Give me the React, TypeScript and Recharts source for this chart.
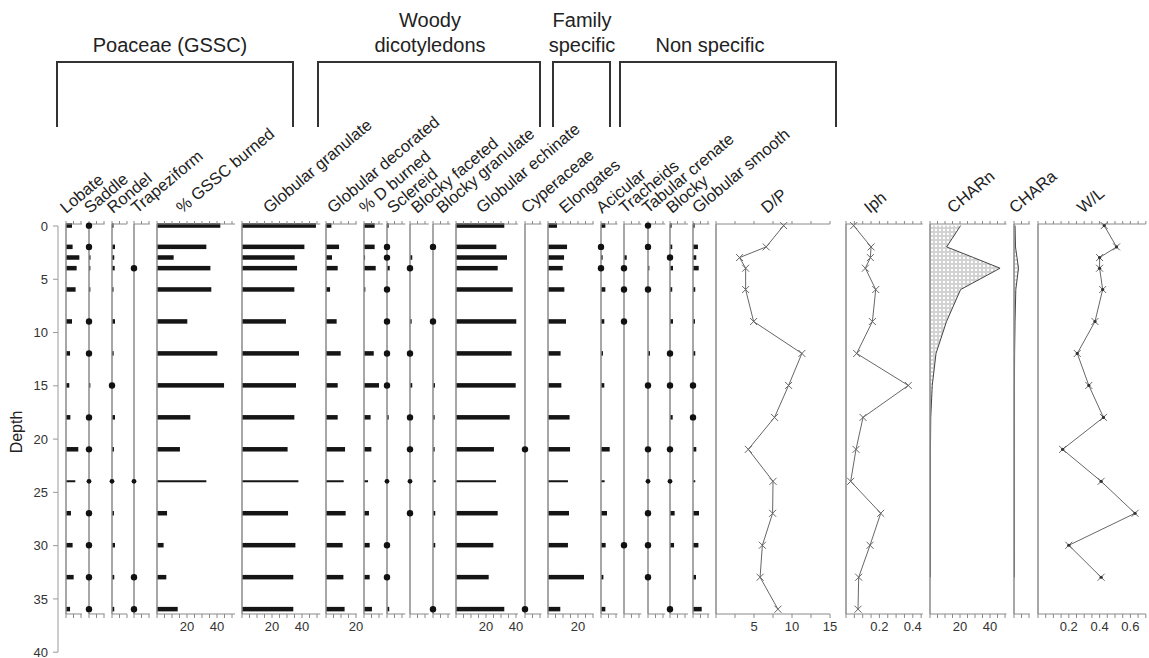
import React from "react";
import { ComposedChart, Bar, Line, Area, XAxis, YAxis, ReferenceLine } from "recharts";

const DEPTHS = [0, 2, 3, 4, 6, 9, 12, 15, 18, 21, 24, 27, 30, 33, 36];

// bar values in %, one per depth, null = not found
const lobate = [4, 4.4, 8.9, 7.1, 6.4, 4, 2.7, 2.2, 2.9, 8.2, 6.2, 3.3, 4.4, 5.1, 2.7];
const saddle = [null, null, 1, 0.9, 0.9, null, null, 0.9, null, null, null, null, null, null, null];
const rondel = [1, 2, 1.5, 1.8, 1, 2, 1.1, null, 2, 1.3, null, 1.3, 2, 1.5, 1.5];
const trapeziform = DEPTHS.map(() => null);
const gsscBurned = [42.2, 32.9, 11.1, 35.6, 36.2, 20.2, 40.2, 44.7, 22.2, 15.3, 32.9, 6.7, 4.4, 6.2, 13.8];
const globGranulate = [49.3, 41.6, 35.1, 36.7, 34.9, 29.3, 38, 36, 34.9, 30.4, 37.6, 30.7, 35.6, 34.2, 34.2];
const globDecorated = [3.6, 8.7, 4, 7.8, 2.7, 7.1, 9.8, 7.8, 7.8, 12.7, 11.8, 13.1, 11.1, 11.6, 12.4];
const dBurned = [7.1, 7.1, 0.7, 7.8, 0.9, null, 6.5, 10, 4.4, 4.9, 2.7, 3.3, 3.8, 3.8, 5.3];
const sclereid = [1.1, null, null, 1.8, null, null, null, null, 1.1, null, null, null, null, null, 1.5];
const blockyFaceted = [null, null, 1.5, null, null, 1.1, null, 1.5, null, null, null, null, null, null, null];
const blockyGranulate = [null, null, null, null, null, null, null, 1.3, 1.1, 1.1, 1.8, 1.5, 1.5, null, null];
const globEchinate = [32.2, 26.9, 34, 27.8, 37.8, 40.2, 37.1, 39.8, 35.8, 25.3, 26.7, 27.8, 24.9, 21.8, 32.2];
const cyperaceae = DEPTHS.map(() => null);
const elongates = [6, 12.7, 10.7, 9.8, 10.9, 12, 8.4, 8.9, 14.4, 14.7, 13.3, 14, 13.3, 24, 8.2];
const acicular = [2.9, null, 1.1, null, 2.9, 2.2, 1.3, 2.2, null, 5.8, 2.4, 4, 3.1, 1.6, 2.9];
const tracheids = [null, null, 1.8, null, null, null, null, null, null, null, null, null, null, null, null];
const tabCrenate = [null, null, null, 0.9, null, null, 1.3, null, null, null, null, null, null, null, null];
const blocky = [1.1, 1.5, null, 2, 1.5, 2, null, null, 1.8, null, null, 3.1, 2.7, null, null];
const globSmooth = [1.1, 3.3, 2.2, 3.8, 1.5, 1.3, 1.5, null, null, 2.2, 1.5, 4, 3.6, 2, 5.8];

// depths where a type is only present (dot on the baseline)
const DOTS: Record<string, number[]> = {
  saddle: [0, 2, 9, 12, 18, 21, 24, 27, 30, 33, 36],
  rondel: [15, 24],
  trapeziform: [4, 24, 33, 36],
  sclereid: [2, 3, 6, 9, 12, 15, 24, 30, 33],
  blockyFaceted: [4, 12, 18, 21, 24, 27],
  blockyGranulate: [2, 9, 36],
  cyperaceae: [21, 36],
  acicular: [2, 4],
  tracheids: [4, 6, 9, 30],
  tabCrenate: [0, 2, 6, 15, 21, 24, 27, 30, 33],
  blocky: [3, 12, 15, 21, 24, 36],
  globSmooth: [15, 18],
};

// ratios and charcoal
const dp = [8.9, 6.6, 3.1, 3.9, 3.9, 4.95, 11.3, 9.55, 7.7, 4.25, 7.5, 7.45, 6.1, 5.8, 8.15];
const iph = [0.046, 0.15, 0.146, 0.116, 0.178, 0.158, 0.064, 0.373, 0.102, 0.06, 0.028, 0.208, 0.144, 0.076, 0.072];
const charn = [20.4, 11.1, 29, 46.7, 20.4, 11, 4, 1.5, 0.5, 0.3, 0.3, 0.3, 0.3, 0.3, null];
const chara = [0.07, 0.1, 0.2, 0.3, 0.12, 0.07, 0.04, 0.03, 0.03, 0.03, 0.03, 0.03, 0.03, 0.03, null];
const wl = [0.43, 0.51, 0.4, 0.4, 0.42, 0.37, 0.255, 0.33, 0.425, 0.16, 0.41, 0.63, 0.2, 0.41, null];

const SERIES: Record<string, (number | null)[]> = {
  lobate, saddle, rondel, trapeziform, gsscBurned, globGranulate, globDecorated, dBurned,
  sclereid, blockyFaceted, blockyGranulate, globEchinate, cyperaceae, elongates, acicular,
  tracheids, tabCrenate, blocky, globSmooth, dp, iph, charn, chara, wl,
};

const rows = DEPTHS.map((d, i) => {
  const r: Record<string, number | null> = { depth: d };
  Object.entries(SERIES).forEach(([k, arr]) => { r[k] = arr[i]; });
  Object.entries(DOTS).forEach(([k, ds]) => { r[k + "Dot"] = ds.includes(d) ? 0 : null; });
  return r;
});

const T10 = [0, 5, 10];
const T20 = [0, 5, 10, 15, 20];
const T30 = [0, 5, 10, 15, 20, 25, 30];
const T40 = [0, 5, 10, 15, 20, 25, 30, 35, 40];
const T50 = [0, 5, 10, 15, 20, 25, 30, 35, 40, 45, 50];

// layout: baseline x, axis max, label x
const BAR_PANELS = [
  { key: "lobate", label: "Lobate", x: 65.7, max: 10.7, lx: 66, ticks: T10 },
  { key: "saddle", label: "Saddle", x: 88.8, max: 10.4, lx: 90, ticks: T10 },
  { key: "rondel", label: "Rondel", x: 111.8, max: 10, lx: 113, ticks: T10 },
  { key: "trapeziform", label: "Trapeziform", x: 134.3, max: 10.5, lx: 137, ticks: T10 },
  { key: "gsscBurned", label: "% GSSC burned", x: 157.2, max: 52, lx: 182, ticks: T50, labels: [20, 40] },
  { key: "globGranulate", label: "Globular granulate", x: 241.7, max: 52.2, lx: 269, ticks: T50, labels: [20, 40] },
  { key: "globDecorated", label: "Globular decorated", x: 325.8, max: 20.5, lx: 333, ticks: T20, labels: [20] },
  { key: "dBurned", label: "% D burned", x: 364.3, max: 12.7, lx: 365, ticks: T10 },
  { key: "sclereid", label: "Sclereid", x: 386.7, max: 12.2, lx: 393, ticks: T10 },
  { key: "blockyFaceted", label: "Blocky faceted", x: 409.5, max: 12.5, lx: 417, ticks: T10 },
  { key: "blockyGranulate", label: "Blocky granulate", x: 432.8, max: 11.5, lx: 442, ticks: T10 },
  { key: "globEchinate", label: "Globular echinate", x: 455.7, max: 41.3, lx: 482, ticks: T40, labels: [20, 40] },
  { key: "cyperaceae", label: "Cyperaceae", x: 524.8, max: 11, lx: 527, ticks: T10 },
  { key: "elongates", label: "Elongates", x: 547.7, max: 30.4, lx: 565, ticks: T30, labels: [20] },
  { key: "acicular", label: "Acicular", x: 601.3, max: 11, lx: 602, ticks: T10 },
  { key: "tracheids", label: "Tracheids", x: 624.2, max: 11.6, lx: 625, ticks: T10 },
  { key: "tabCrenate", label: "Tabular crenate", x: 647.5, max: 11.5, lx: 648, ticks: T10 },
  { key: "blocky", label: "Blocky", x: 670.2, max: 12, lx: 672, ticks: T10 },
  { key: "globSmooth", label: "Globular smooth", x: 693.3, max: 11, lx: 698, ticks: T10 },
];

const LINE_PANELS = [
  { key: "dp", label: "D/P", x: 716.2, max: 15, ppu: 7.6, lx: 767, kind: "line",
    ticks: [0, 2.5, 5, 7.5, 10, 12.5, 15], labels: [5, 10, 15] },
  { key: "iph", label: "Iph", x: 846, max: 0.46, ppu: 167, lx: 870, kind: "line",
    ticks: [0, 0.05, 0.1, 0.15, 0.2, 0.25, 0.3, 0.35, 0.4, 0.45], labels: [0.2, 0.4] },
  { key: "charn", label: "CHARn", x: 930, max: 51, ppu: 1.5, lx: 953, kind: "area", ticks: T50, labels: [20, 40] },
  { key: "chara", label: "CHARa", x: 1014.3, max: 1.05, ppu: 15, lx: 1015, kind: "area", ticks: [0, 0.5, 1] },
  { key: "wl", label: "W/L", x: 1037.5, max: 0.7, ppu: 154, lx: 1083, kind: "line",
    ticks: [0, 0.05, 0.1, 0.15, 0.2, 0.25, 0.3, 0.35, 0.4, 0.45, 0.5, 0.55, 0.6, 0.65, 0.7], labels: [0.2, 0.4, 0.6], star: true },
];

const FONT = '"Liberation Sans", Arial, sans-serif';
const PLOT_TOP = 224.1;
const PLOT_H = 390;
const TOP_H = 10;
const BOT_H = 30;
const ML = 6;
const MR = 12;
const GREY = "#8a8a8a";

const BarShape = (p: any) => {
  const thin = p.payload && p.payload.depth === 24;
  const h = thin ? 2 : p.height;
  const y = thin ? p.y + (p.height - 2) / 2 : p.y;
  return <rect x={p.x} y={y} width={Math.max(p.width || 0, 0)} height={h} fill="#151515" />;
};

const PresenceDot = (p: any) => {
  if (p.value == null || p.cx == null || p.cy == null) return <g key={p.key} />;
  const r = p.payload && p.payload.depth === 24 ? 2.4 : 3.2;
  return <circle key={p.key} cx={p.cx} cy={p.cy} r={r} fill="#111" />;
};

const Cross = (star: boolean) => (p: any) => {
  if (p.value == null || p.cx == null || p.cy == null) return <g key={p.key} />;
  const s = 3.5;
  const { cx, cy } = p;
  return (
    <g key={p.key}>
      <path d={`M${cx - s},${cy - s}L${cx + s},${cy + s}M${cx - s},${cy + s}L${cx + s},${cy - s}`} stroke="#666" strokeWidth={1} />
      {star && <circle cx={cx} cy={cy} r={1.6} fill="#333" />}
    </g>
  );
};

// series go on the top axis ("t"); the bottom axis ("b") carries the labels and baseline
function Frame({ x, max, width, ticks, labels, children }: any) {
  const fmt = (v: number) => (labels && labels.includes(v) ? String(v) : "");
  return (
    <div style={{ position: "absolute", left: x - ML, top: PLOT_TOP - TOP_H }}>
      <ComposedChart layout="vertical" width={width + ML + MR} height={PLOT_H + TOP_H + BOT_H} data={rows}
        margin={{ top: 0, right: MR, bottom: 0, left: ML }}>
        <defs>
          <pattern id="stipple" width="4" height="4" patternUnits="userSpaceOnUse">
            <circle cx="2" cy="2" r="1.3" fill="none" stroke="#888" strokeWidth="0.6" />
          </pattern>
        </defs>
        <XAxis xAxisId="t" type="number" orientation="top" domain={[0, max]} ticks={ticks} height={TOP_H}
          tickSize={3} tickFormatter={() => ""} stroke={GREY} interval={0} />
        <XAxis xAxisId="b" type="number" orientation="bottom" domain={[0, max]} ticks={ticks} height={BOT_H}
          tickSize={4} tickMargin={4} tickFormatter={fmt} stroke={GREY} interval={0} allowDataOverflow
          tick={{ fill: "#333", fontSize: 13 }} />
        <YAxis type="number" dataKey="depth" domain={[-0.15, 36.45]} ticks={DEPTHS} hide />
        <ReferenceLine xAxisId="b" x={0} stroke={GREY} strokeWidth={1.5} />
        {children}
      </ComposedChart>
    </div>
  );
}

function BarPanel({ cfg }: any) {
  return (
    <Frame x={cfg.x} max={cfg.max} width={cfg.max * 1.5} ticks={cfg.ticks} labels={cfg.labels}>
      <Bar xAxisId="t" dataKey={cfg.key} barSize={4.5} shape={BarShape} isAnimationActive={false} />
      {DOTS[cfg.key] && (
        <Line xAxisId="t" dataKey={cfg.key + "Dot"} stroke="none" dot={PresenceDot} activeDot={false}
          isAnimationActive={false} />
      )}
    </Frame>
  );
}

function LinePanel({ cfg }: any) {
  return (
    <Frame x={cfg.x} max={cfg.max} width={cfg.max * cfg.ppu} ticks={cfg.ticks} labels={cfg.labels}>
      {cfg.kind === "area" ? (
        <Area xAxisId="t" dataKey={cfg.key} type="linear" stroke="#444" strokeWidth={1} fill="url(#stipple)"
          fillOpacity={1} dot={false} activeDot={false} isAnimationActive={false} />
      ) : (
        <Line xAxisId="t" dataKey={cfg.key} type="linear" stroke="#666" strokeWidth={1} dot={Cross(!!cfg.star)}
          activeDot={false} isAnimationActive={false} />
      )}
    </Frame>
  );
}

function DepthAxis() {
  const top = 225.7;
  const h = 426.2;
  return (
    <div style={{ position: "absolute", left: 0, top: top - 10 }}>
      <ComposedChart width={70} height={h + 20} data={rows} margin={{ top: 10, right: 4, bottom: 10, left: 8 }}>
        <XAxis dataKey="depth" type="number" domain={[0, 40]} hide />
        <YAxis type="number" domain={[0, 40]} ticks={[0, 5, 10, 15, 20, 25, 30, 35, 40]} reversed width={50}
          tickSize={5} tickMargin={5} stroke="#999" interval={0} tick={{ fill: "#333", fontSize: 13 }} />
        <Line dataKey="depth" stroke="none" dot={false} activeDot={false} isAnimationActive={false} />
      </ComposedChart>
    </div>
  );
}

const GROUPS = [
  { lines: ["Poaceae (GSSC)"], cx: 170, x0: 57, x1: 293 },
  { lines: ["Woody", "dicotyledons"], cx: 430, x0: 318, x1: 540 },
  { lines: ["Family", "specific"], cx: 582, x0: 553, x1: 610 },
  { lines: ["Non specific"], cx: 710, x0: 620, x1: 836 },
];

const LABEL_Y = 214;
const LABEL_ANGLE = -40;

export default function App() {
  const labels = [...BAR_PANELS, ...LINE_PANELS];
  return (
    <div style={{ position: "absolute", left: 0, top: 0, width: 1149, height: 658, overflow: "hidden",
      background: "#fff", fontFamily: FONT }}>
      <DepthAxis />
      {BAR_PANELS.map((c) => <BarPanel key={c.key} cfg={c} />)}
      {LINE_PANELS.map((c) => <LinePanel key={c.key} cfg={c} />)}
      <svg width={1149} height={658} style={{ position: "absolute", left: 0, top: 0, pointerEvents: "none" }}>
        {GROUPS.map((g) => (
          <g key={g.x0}>
            {g.lines.map((t, i) => (
              <text key={t} x={g.cx} y={52 - (g.lines.length - 1 - i) * 25} textAnchor="middle" fontSize={20} fill="#222">
                {t}
              </text>
            ))}
            <path d={`M${g.x0},127V62H${g.x1}V127`} fill="none" stroke="#333" strokeWidth={2} />
          </g>
        ))}
        {labels.map((c) => (
          <text key={c.key} x={c.lx} y={LABEL_Y} transform={`rotate(${LABEL_ANGLE} ${c.lx} ${LABEL_Y})`}
            fontSize={16.5} fill="#222">
            {c.label}
          </text>
        ))}
        <text x={22} y={432} transform="rotate(-90 22 432)" textAnchor="middle" fontSize={16} fill="#222">Depth</text>
      </svg>
    </div>
  );
}
